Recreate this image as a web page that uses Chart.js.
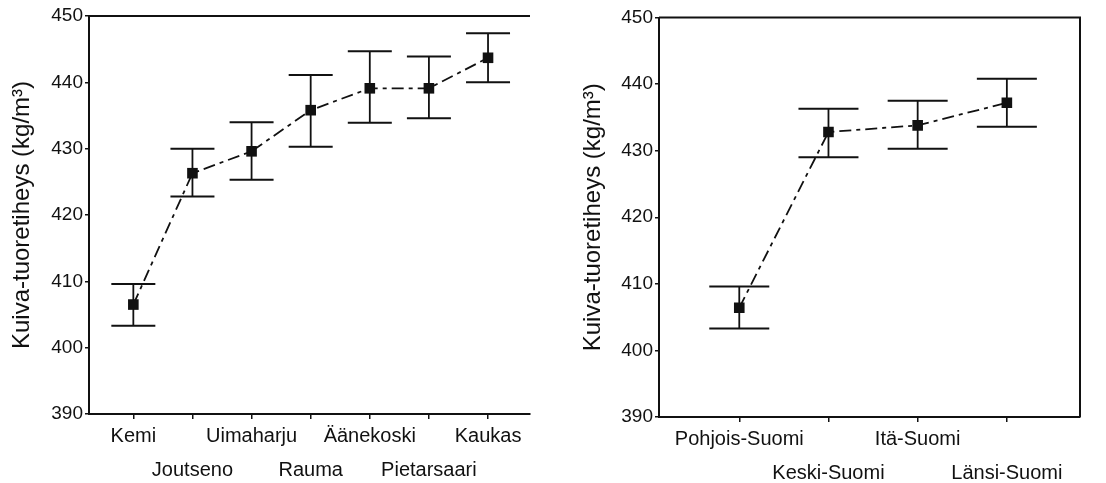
<!DOCTYPE html>
<html><head><meta charset="utf-8">
<script src="https://cdn.jsdelivr.net/npm/chart.js@4.4.0/dist/chart.umd.min.js"></script>
<style>
html,body{margin:0;padding:0;background:#fff;}
#wrap{position:relative;width:1106px;height:483px;}
canvas{position:absolute;top:0;}
#left{left:0}
#right{left:553px}
</style></head><body>
<div id="wrap"><canvas id="left" width="553" height="483"></canvas><canvas id="right" width="553" height="483"></canvas></div>
<script>
// mills (left panel)
const millNames = ['Kemi', 'Joutseno', 'Uimaharju', 'Rauma', 'Äänekoski', 'Pietarsaari', 'Kaukas'];
const millMeans = [406.5, 426.3, 429.6, 435.8, 439.1, 439.1, 443.7];
const millLow = [403.3, 422.8, 425.3, 430.3, 433.9, 434.6, 440.0];
const millHigh = [409.6, 430.0, 434.0, 441.1, 444.7, 443.9, 447.4];

// regions (right panel)
const regionNames = ['Pohjois-Suomi', 'Keski-Suomi', 'Itä-Suomi', 'Länsi-Suomi'];
const regionMeans = [406.4, 432.8, 433.8, 437.2];
const regionLow = [403.3, 429.0, 430.3, 433.6];
const regionHigh = [409.6, 436.3, 437.5, 440.8];

const yTicks = [390, 400, 410, 420, 430, 440, 450];
const yTitle = 'Kuiva-tuoretiheys (kg/m³)';

const INK = '#111';
const FONT = "'Liberation Sans', Arial, sans-serif";

const errorBars = {
  id: 'errorBars',
  beforeDatasetsDraw(chart, args, opts) {
    const { ctx, scales: { x, y } } = chart;
    ctx.save();
    ctx.strokeStyle = INK;
    opts.low.forEach((lo, i) => {
      const px = x.getPixelForValue(i);
      const y1 = y.getPixelForValue(lo);
      const y2 = y.getPixelForValue(opts.high[i]);
      ctx.lineWidth = 1.8;
      ctx.beginPath();
      ctx.moveTo(px, y1); ctx.lineTo(px, y2);
      ctx.stroke();
      ctx.lineWidth = 2;
      ctx.beginPath();
      ctx.moveTo(px - opts.cap, y1); ctx.lineTo(px + opts.cap, y1);
      ctx.moveTo(px - opts.cap, y2); ctx.lineTo(px + opts.cap, y2);
      ctx.stroke();
    });
    ctx.restore();
  }
};

const frame = {
  id: 'frame',
  afterDraw(chart, args, opts) {
    const { ctx, chartArea: a } = chart;
    ctx.save();
    ctx.strokeStyle = INK;
    ctx.lineWidth = 2;
    ctx.beginPath();
    ctx.moveTo(a.left, a.top); ctx.lineTo(a.right, a.top);
    if (opts.right) { ctx.lineTo(a.right, a.bottom); }
    ctx.stroke();
    ctx.restore();
  }
};

function makeChart(id, names, means, low, high, cfg) {
  return new Chart(document.getElementById(id), {
    type: 'line',
    data: {
      datasets: [{
        data: means.map((v, i) => ({ x: i, y: v })),
        borderColor: INK,
        borderWidth: 1.8,
        borderDash: [12, 5, 4, 5],
        tension: 0,
        pointStyle: 'rect',
        pointRadius: 7.5,
        pointBackgroundColor: INK,
        pointBorderColor: INK,
        pointBorderWidth: 0
      }]
    },
    options: {
      responsive: false,
      animation: false,
      layout: { padding: { top: cfg.top, right: cfg.right, left: 0, bottom: 0 } },
      plugins: {
        legend: { display: false },
        tooltip: { enabled: false },
        errorBars: { low: low, high: high, cap: cfg.cap },
        frame: { right: cfg.frameRight }
      },
      scales: {
        x: {
          type: 'linear',
          min: cfg.xMin,
          max: cfg.xMax,
          afterBuildTicks: s => { s.ticks = names.map((_, i) => ({ value: i })); },
          afterFit: s => { s.height = cfg.xHeight; },
          border: { display: true, color: INK, width: 2 },
          grid: { drawOnChartArea: false, drawTicks: true, tickLength: 5, color: INK, lineWidth: 1.5 },
          ticks: {
            autoSkip: false, maxRotation: 0, padding: 0, color: INK,
            font: { family: FONT, size: 20, lineHeight: 1.7 },
            callback: (v, i) => i % 2 === 0 ? names[i] : ['', names[i]]
          }
        },
        y: {
          min: 390,
          max: 450,
          afterBuildTicks: s => { s.ticks = yTicks.map(v => ({ value: v })); },
          afterFit: s => { s.width = cfg.yWidth; },
          border: { display: true, color: INK, width: 2 },
          grid: { drawOnChartArea: false, drawTicks: true, tickLength: 4, color: INK, lineWidth: 1.5 },
          ticks: { color: INK, padding: 2, font: { family: FONT, size: 19 } },
          title: {
            display: true, text: yTitle, color: INK,
            padding: { top: cfg.titlePad, bottom: 0 },
            font: { family: FONT, size: 24 }
          }
        }
      }
    },
    plugins: [errorBars, frame]
  });
}

makeChart('left', millNames, millMeans, millLow, millHigh, {
  top: 16, right: 23, yWidth: 89, xHeight: 69, xMin: -0.75, xMax: 6.71, cap: 22, frameRight: false, titlePad: 7.5
});
makeChart('right', regionNames, regionMeans, regionLow, regionHigh, {
  top: 17.5, right: 26, yWidth: 106, xHeight: 66, xMin: -0.9, xMax: 3.82, cap: 30, frameRight: true, titlePad: 25.5
});
</script>
</body></html>
